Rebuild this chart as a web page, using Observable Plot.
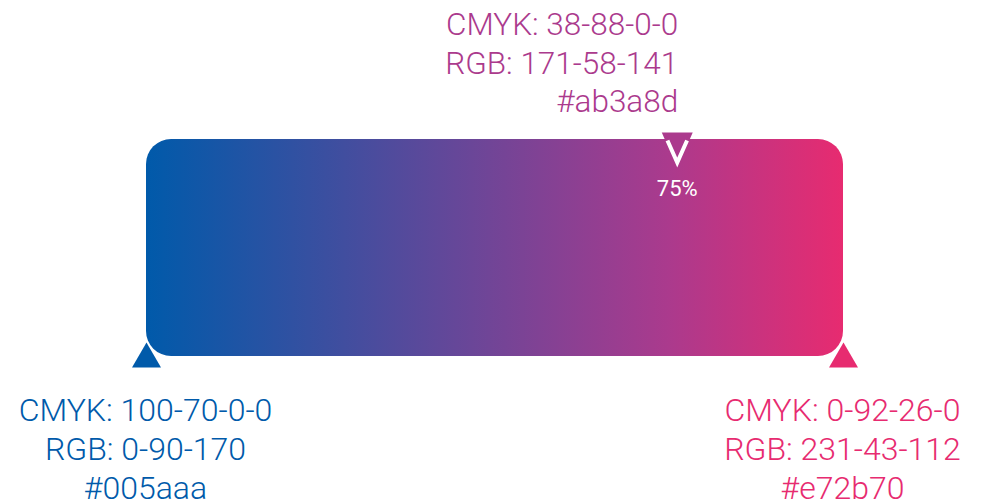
<!DOCTYPE html>
<html>
<head>
<meta charset="utf-8">
<script src="https://cdn.jsdelivr.net/npm/d3@7"></script>
<script src="https://cdn.jsdelivr.net/npm/@observablehq/plot@0.6"></script>
<style>
  html, body { margin: 0; padding: 0; background: #fff; }
  #chart { width: 982px; height: 502px; }
</style>
</head>
<body>
<div id="chart"></div>
<script>
// ---- data ----
const positions = [0, 75, 100];                       // gradient stop positions (%)
const colors    = ["#005aaa", "#ab3a8d", "#e72b70"];   // stop colours
const cmyk      = ["100-70-0-0", "38-88-0-0", "0-92-26-0"];
const rgb       = ["0-90-170", "171-58-141", "231-43-112"];
const hexCodes  = ["#005aaa", "#ab3a8d", "#e72b70"];
const stopLabel = "75%";

const stops = positions.map((p, i) => ({
  pos: p, color: colors[i],
  label: `CMYK: ${cmyk[i]}\nRGB: ${rgb[i]}\n${hexCodes[i]}`
}));
const ends = [stops[0], stops[2]];
const mid = [stops[1]];
const bar = [{x1: positions[0], x2: positions[2], y1: 0, y2: 1}];

// custom marker shapes
const upTriangle = {draw(ctx) { ctx.moveTo(0, -14); ctx.lineTo(14.5, 11); ctx.lineTo(-14.5, 11); ctx.closePath(); }};
const downTriangle = {draw(ctx) { ctx.moveTo(-15.5, -7); ctx.lineTo(15.5, -7); ctx.lineTo(0, 28); ctx.closePath(); }};
const downV = {draw(ctx) { ctx.moveTo(-9.8, 1); ctx.lineTo(0, 23.1); ctx.lineTo(9.8, 1); }};

const font = "Roboto";

const chart = Plot.plot({
  width: 982,
  height: 502,
  margin: 0,
  style: {fontFamily: font, background: "white"},
  x: {domain: [0, 100], range: [146, 843], axis: null},
  y: {domain: [0, 1], range: [356, 139], axis: null},
  marks: [
    Plot.rect(bar, {x1: "x1", x2: "x2", y1: "y1", y2: "y2", fill: "url(#bargrad)", rx: 25}),
    // end markers
    Plot.dot(ends, {x: "pos", y: () => 0, r: 10, symbol: upTriangle, fill: "color"}),
    // 75% marker
    Plot.dot(mid, {x: "pos", y: () => 1, r: 10, dx: 8, symbol: downTriangle, fill: "color"}),
    Plot.dot(mid, {x: "pos", y: () => 1, r: 10, dx: 8, symbol: downV, fill: "none", stroke: "white", strokeWidth: 4}),
    Plot.text(mid, {x: "pos", y: () => 1, dx: 8, dy: 49, text: () => stopLabel, fill: "white",
      fontSize: 22, fontWeight: 400, textAnchor: "middle"}),
    // labels
    Plot.text(ends, {x: "pos", y: () => 0, text: "label", fill: "color", fontSize: 32, fontWeight: 300,
      lineAnchor: "top", lineHeight: 1.22, dy: 36.3, dx: -1, textAnchor: "middle"}),
    Plot.text(mid, {x: "pos", y: () => 1, text: "label", fill: "color", fontSize: 31.5, fontWeight: 300,
      lineAnchor: "top", lineHeight: 1.22, dy: -131.3, dx: 9, textAnchor: "end"})
  ]
});

// gradient definition built from the stop arrays
const ns = "http://www.w3.org/2000/svg";
const defs = document.createElementNS(ns, "defs");
const grad = document.createElementNS(ns, "linearGradient");
grad.setAttribute("id", "bargrad");
grad.setAttribute("x1", "0"); grad.setAttribute("x2", "1");
grad.setAttribute("y1", "0"); grad.setAttribute("y2", "0");
const dom = [positions[0], positions[positions.length - 1]];
positions.forEach((p, i) => {
  const s = document.createElementNS(ns, "stop");
  s.setAttribute("offset", (p - dom[0]) / (dom[1] - dom[0]));
  s.setAttribute("stop-color", colors[i]);
  grad.appendChild(s);
});
defs.appendChild(grad);
chart.insertBefore(defs, chart.firstChild);

document.getElementById("chart").appendChild(chart);
</script>
</body>
</html>
